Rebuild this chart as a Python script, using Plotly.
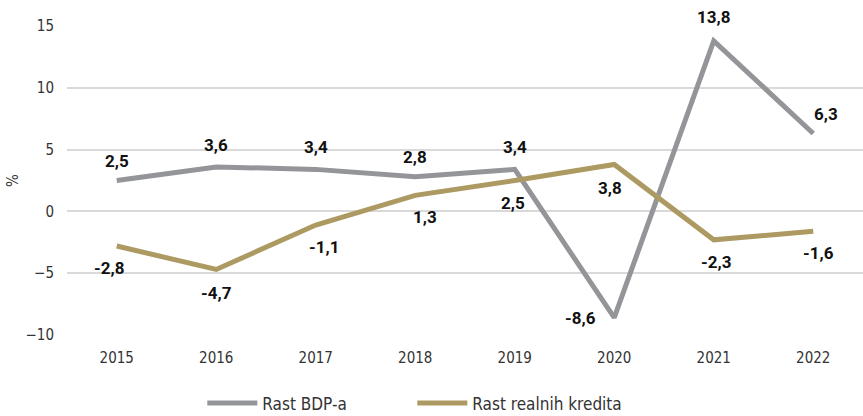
import plotly.graph_objects as go

years = ["2015", "2016", "2017", "2018", "2019", "2020", "2021", "2022"]
gdp_growth = [2.5, 3.6, 3.4, 2.8, 3.4, -8.6, 13.8, 6.3]
credit_growth = [-2.8, -4.7, -1.1, 1.3, 2.5, 3.8, -2.3, -1.6]

GRAY = "#939598"
TAN = "#AD9A62"
COND = "DejaVu Sans Condensed, Roboto Condensed, Liberation Sans Narrow, Arial Narrow, sans-serif"
label_font = dict(family="Roboto", size=17, color="#111111", weight="bold")
tick_font = dict(family=COND, size=15, color="#333333")


def fmt(v):
    return f"{v:.1f}".replace(".", ",")


fig = go.Figure()
fig.add_trace(go.Scatter(
    x=years, y=gdp_growth, name="Rast BDP-a", mode="lines",
    line=dict(color=GRAY, width=5), cliponaxis=False,
))
fig.add_trace(go.Scatter(
    x=years, y=credit_growth, name="Rast realnih kredita", mode="lines",
    line=dict(color=TAN, width=5), cliponaxis=False,
))

# value labels: GDP above the line (2020 to the left), credit below.
# On a category axis annotations are placed by category index.
gdp_shift = [(0, 20), (0, 22), (0, 22), (0, 20), (0, 22), (-34, 0), (0, 24), (13, 20)]
credit_shift = [(-8, -22), (0, -24), (8, -22), (10, -22), (-2, -22), (-4, -24), (2, -22), (5, -22)]
for i, (v, (dx, dy)) in enumerate(zip(gdp_growth, gdp_shift)):
    fig.add_annotation(x=i, y=v, text=fmt(v), showarrow=False, xshift=dx, yshift=dy,
                       font=label_font)
for i, (v, (dx, dy)) in enumerate(zip(credit_growth, credit_shift)):
    fig.add_annotation(x=i, y=v, text=fmt(v), showarrow=False, xshift=dx, yshift=dy,
                       font=label_font)

fig.update_layout(
    width=863, height=416,
    margin=dict(l=67, r=0, t=26, b=81, autoexpand=False),
    paper_bgcolor="white", plot_bgcolor="white",
    showlegend=True,
    legend=dict(orientation="h", x=0.17, xanchor="left",
                yref="container", y=0.03, yanchor="middle",
                font=dict(family=COND, size=17, color="#333333"),
                itemwidth=50, entrywidthmode="pixels", entrywidth=145),
    xaxis=dict(type="category", range=[-0.5, len(years) - 0.5],
               showgrid=False, zeroline=False, showline=False,
               tickfont=tick_font, ticklabelstandoff=12, fixedrange=True),
    yaxis=dict(range=[-10, 15], tickvals=[-10, -5, 0, 5, 10, 15],
               showgrid=True, gridcolor="#d9d9d9", gridwidth=2,
               zeroline=False, showline=False,
               tickfont=tick_font, ticklabelstandoff=12,
               title=dict(text="%", font=tick_font, standoff=3)),
)

fig.write_html("out.html")
